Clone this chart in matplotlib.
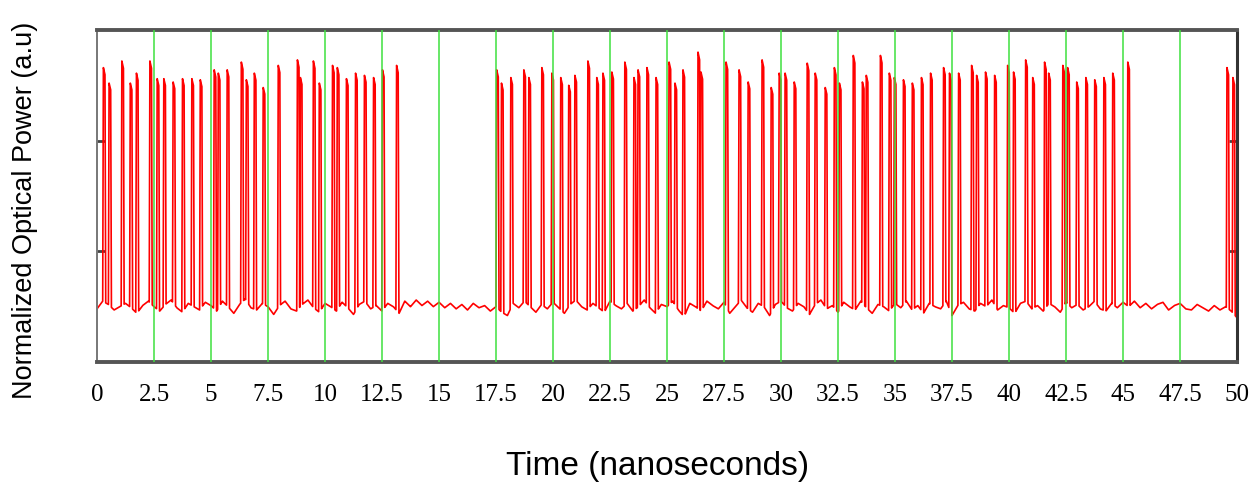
import numpy as np
import matplotlib.pyplot as plt

# pulse peak times (ns) and peak levels (a.u.)
pulse_times = [0.28, 0.53, 1.09, 1.46, 1.73, 2.32, 2.64, 2.93, 3.34, 3.75, 4.16, 4.53,
               5.14, 5.32, 5.71, 6.33, 6.55, 6.90, 7.29, 7.95, 8.79, 8.92,
               9.49, 9.75, 10.33, 10.54, 10.94, 11.34, 11.73, 12.13, 12.52, 13.14,
               17.53, 17.74, 18.15, 18.72, 18.94, 19.51, 19.95, 20.34, 20.69, 20.96,
               21.53, 21.92, 22.19, 22.58, 23.15, 23.55, 23.73, 24.12, 24.52,
               25.09, 25.35, 25.70, 26.36, 26.49, 27.59, 28.16, 28.56, 29.17, 29.57,
               29.92, 30.18, 30.58, 31.15, 31.50, 31.94, 32.34, 32.56, 33.17, 33.57,
               33.74, 34.36, 34.75, 34.97, 35.37, 35.76, 36.16, 36.56, 37.13, 37.39,
               37.79, 38.36, 38.58, 38.97, 39.37, 39.94, 40.20, 40.73, 41.04, 41.56,
               41.74, 42.36, 42.57, 42.97, 43.37, 43.76, 44.16, 44.55, 45.21,
               49.56, 49.82]
pulse_peaks = [2.66, 2.52, 2.72, 2.52, 2.61, 2.72, 2.56, 2.56, 2.53, 2.56, 2.56, 2.55,
               2.64, 2.61, 2.64, 2.71, 2.55, 2.61, 2.48, 2.68, 2.73, 2.57,
               2.72, 2.52, 2.68, 2.66, 2.56, 2.61, 2.59, 2.57, 2.64, 2.68,
               2.64, 2.52, 2.57, 2.64, 2.57, 2.66, 2.61, 2.57, 2.50, 2.59,
               2.72, 2.57, 2.61, 2.62, 2.71, 2.57, 2.64, 2.66, 2.57,
               2.71, 2.52, 2.64, 2.80, 2.62, 2.71, 2.64, 2.53, 2.73, 2.48,
               2.61, 2.61, 2.53, 2.70, 2.61, 2.48, 2.66, 2.52, 2.77, 2.53,
               2.59, 2.77, 2.61, 2.57, 2.55, 2.52, 2.57, 2.61, 2.66, 2.61,
               2.61, 2.68, 2.59, 2.62, 2.59, 2.68, 2.62, 2.73, 2.57, 2.71,
               2.61, 2.68, 2.66, 2.53, 2.57, 2.55, 2.57, 2.61, 2.71,
               2.66, 2.57]

# noisy floor level, one value every 0.25 ns from 0 to 50 ns
baseline_step = 0.25
baseline = [0.48, 0.55, 0.52, 0.47, 0.50, 0.53, 0.49, 0.44, 0.51, 0.55, 0.50, 0.46, 0.52, 0.56, 0.49, 0.45, 0.53, 0.50, 0.47, 0.54,
            0.51, 0.46, 0.55, 0.50, 0.44, 0.52, 0.57, 0.49, 0.47, 0.53, 0.50, 0.43, 0.51, 0.55, 0.48, 0.46, 0.52, 0.56, 0.49, 0.45,
            0.53, 0.50, 0.46, 0.54, 0.49, 0.43, 0.52, 0.55, 0.48, 0.51, 0.46, 0.53, 0.50, 0.44, 0.55, 0.50, 0.56, 0.51, 0.55, 0.50,
            0.54, 0.49, 0.53, 0.48, 0.52, 0.47, 0.53, 0.49, 0.51, 0.46, 0.50, 0.45, 0.42, 0.53, 0.49, 0.55, 0.50, 0.45, 0.52, 0.48,
            0.54, 0.49, 0.44, 0.52, 0.56, 0.50, 0.47, 0.53, 0.49, 0.45, 0.55, 0.51, 0.48, 0.53, 0.46, 0.50, 0.56, 0.49, 0.44, 0.52,
            0.50, 0.55, 0.47, 0.41, 0.53, 0.50, 0.46, 0.55, 0.51, 0.48, 0.54, 0.44, 0.50, 0.56, 0.49, 0.45, 0.53, 0.50, 0.42, 0.52,
            0.55, 0.49, 0.46, 0.53, 0.50, 0.43, 0.52, 0.56, 0.48, 0.51, 0.45, 0.54, 0.50, 0.47, 0.55, 0.49, 0.44, 0.52, 0.50, 0.46,
            0.53, 0.49, 0.55, 0.47, 0.51, 0.44, 0.53, 0.50, 0.48, 0.55, 0.42, 0.51, 0.54, 0.48, 0.46, 0.53, 0.50, 0.56, 0.47, 0.51,
            0.49, 0.44, 0.53, 0.55, 0.48, 0.51, 0.46, 0.53, 0.50, 0.45, 0.54, 0.49, 0.52, 0.47, 0.50, 0.55, 0.48, 0.46, 0.53, 0.49,
            0.54, 0.50, 0.55, 0.49, 0.53, 0.48, 0.52, 0.54, 0.47, 0.51, 0.53, 0.48, 0.47, 0.52, 0.49, 0.46, 0.51, 0.47, 0.50, 0.46,
            0.40]

x_ticks = [0, 2.5, 5, 7.5, 10, 12.5, 15, 17.5, 20, 22.5, 25, 27.5, 30, 32.5, 35, 37.5, 40, 42.5, 45, 47.5, 50]
x_tick_labels = ['0', '2.5', '5', '7.5', '10', '12.5', '15', '17.5', '20', '22.5', '25',
                 '27.5', '30', '32.5', '35', '37.5', '40', '42.5', '45', '47.5', '50']
y_ticks = [1, 2]

t = np.linspace(0, 50, 20001)
tb = np.arange(len(baseline)) * baseline_step
signal = np.interp(t, tb, baseline)
for tp, pk in zip(pulse_times, pulse_peaks):
    shape = np.interp(t, [tp - 0.03, tp, tp + 0.07, tp + 0.1], [0, 1, 0.97, 0], left=0, right=0)
    signal = signal + shape * (pk - signal)

W = 12.53
H = 4.82
fig = plt.figure(figsize=(W, H), dpi=100)
ax = fig.add_axes([97/1253, 1 - 362/482, (1237 - 97)/1253, (362 - 30)/482])

ax.plot(t, signal, color='red', linewidth=1.2, zorder=2)
for g in x_ticks[1:-1]:
    ax.axvline(g, color='#3fe03f', linewidth=1.1, zorder=3)

ax.set_xlim(0, 50)
ax.set_ylim(0, 3)
ax.set_xticks(x_ticks)
ax.set_xticklabels(x_tick_labels, fontsize=18, family='Liberation Serif')
ax.set_yticks(y_ticks)
ax.set_yticklabels([])
ax.tick_params(axis='x', length=0, pad=16, colors='black')
ax.tick_params(axis='y', direction='in', length=6, width=2, color='#444444', left=True, right=True)

ax.spines['top'].set_linewidth(2.8)
ax.spines['bottom'].set_linewidth(2.8)
ax.spines['top'].set_color('#555555')
ax.spines['bottom'].set_color('#555555')
ax.spines['left'].set_linewidth(1.4)
ax.spines['left'].set_color('#777777')
ax.spines['right'].set_linewidth(2.2)
ax.spines['right'].set_color('#333333')

fig.text(25/1253, 1 - 210/482, 'Normalized Optical Power (a.u)', rotation=90, ha='center', va='center',
         fontsize=19.5, family='Liberation Sans')
fig.text(658/1253, 1 - 466/482, 'Time (nanoseconds)', ha='center', va='center',
         fontsize=24, family='Liberation Sans')

plt.savefig('out.png', dpi=100)
